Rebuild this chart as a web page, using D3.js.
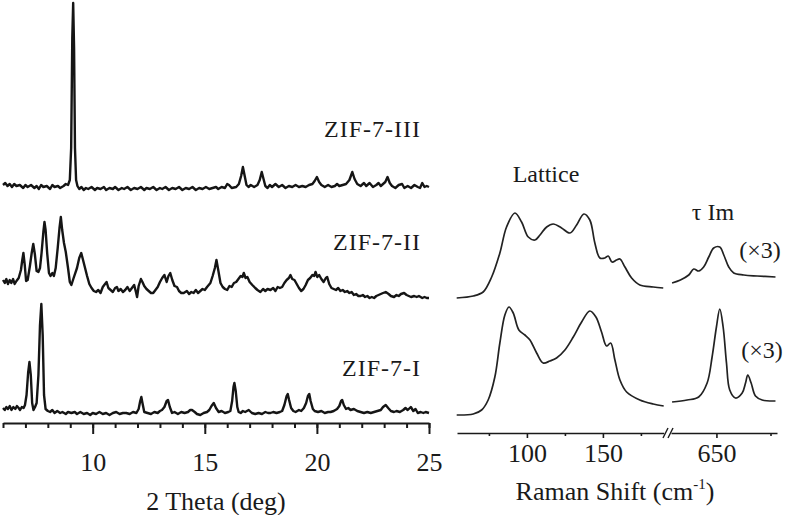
<!DOCTYPE html>
<html>
<head>
<meta charset="utf-8">
<script src="https://cdn.jsdelivr.net/npm/d3@7"></script>
<style>
	body { margin: 0; background: #fff; }
	svg { display: block; }
	text { font-family: "Liberation Serif", "Times New Roman", serif; fill: #1a1a1a; }
	.axis path, .axis line { stroke: #1a1a1a; }
</style>
</head>
<body>
<div id="chart"></div>
<script>
// XRD patterns, [2 theta (deg), intensity a.u. above own baseline]
var xrdIII = [[6.0,3],[6.1,5],[6.2,2],[6.3,4],[6.4,1],[6.5,4],[6.6,2],[6.75,3],[6.9,0],[7.0,3],[7.1,1],[7.25,3],[7.4,0],[7.5,2],[7.6,-1],[7.7,3],[7.8,1],[7.95,2],[8.1,-1],[8.2,3],[8.3,1],[8.45,2],[8.55,0],[8.7,2],[8.8,4],[8.9,3],[8.98,8],[9.04,40],[9.09,150],[9.13,185],[9.17,140],[9.21,40],[9.26,8],[9.32,2],[9.4,-1],[9.5,1],[9.6,-2],[9.7,0],[9.8,-1],[9.95,1],[10.1,-2],[10.2,0],[10.35,-1],[10.5,1],[10.6,-2],[10.75,0],[10.9,-1],[11.0,1],[11.15,-2],[11.3,0],[11.4,-1],[11.55,1],[11.7,-2],[11.85,0],[12.0,-1],[12.15,1],[12.3,-2],[12.4,0],[12.55,-1],[12.7,1],[12.85,-2],[13.0,0],[13.1,-1],[13.25,1],[13.4,-2],[13.55,0],[13.7,-1],[13.85,1],[14.0,-2],[14.15,0],[14.3,-1],[14.45,1],[14.6,-2],[14.75,0],[14.9,-1],[15.05,1],[15.2,-1],[15.35,0],[15.5,1],[15.6,-1],[15.75,1],[15.9,0],[16.0,4],[16.08,3],[16.2,0],[16.4,1],[16.52,4],[16.62,12],[16.7,21],[16.78,12],[16.86,3],[16.95,1],[17.05,3],[17.2,1],[17.35,3],[17.45,8],[17.54,16],[17.62,9],[17.7,2],[17.8,0],[17.9,3],[18.0,1],[18.15,4],[18.3,1],[18.45,3],[18.6,0],[18.75,2],[18.9,1],[19.05,3],[19.2,1],[19.35,2],[19.5,1],[19.65,3],[19.8,4],[19.9,7],[20.0,11],[20.1,6],[20.2,3],[20.35,1],[20.5,3],[20.65,1],[20.8,2],[20.9,4],[21.0,2],[21.15,3],[21.3,4],[21.45,8],[21.58,16],[21.68,9],[21.8,4],[21.95,2],[22.1,5],[22.2,2],[22.35,5],[22.5,1],[22.65,3],[22.75,5],[22.85,2],[22.95,4],[23.05,6],[23.15,11],[23.25,5],[23.35,2],[23.5,0],[23.65,3],[23.8,4],[23.9,0],[24.05,2],[24.2,0],[24.35,3],[24.5,1],[24.6,0],[24.7,5],[24.8,1],[24.9,2],[25.0,1]];

var xrdII = [[6.0,18],[6.08,15],[6.15,19],[6.22,14],[6.3,18],[6.37,15],[6.45,19],[6.52,14],[6.6,17],[6.7,20],[6.8,28],[6.86,38],[6.91,45],[6.97,33],[7.03,17],[7.1,18],[7.2,32],[7.28,45],[7.35,54],[7.42,44],[7.5,27],[7.58,26],[7.65,30],[7.72,45],[7.8,66],[7.85,76],[7.9,68],[7.97,45],[8.05,25],[8.12,22],[8.2,25],[8.27,22],[8.35,30],[8.44,50],[8.52,70],[8.58,81],[8.64,68],[8.72,55],[8.8,46],[8.9,30],[8.98,16],[9.05,13],[9.15,20],[9.3,30],[9.4,40],[9.49,45],[9.57,38],[9.66,30],[9.75,22],[9.85,14],[9.95,10],[10.05,7],[10.15,6],[10.25,8],[10.35,5],[10.45,11],[10.55,14],[10.62,16],[10.7,10],[10.8,8],[10.9,6],[11.0,10],[11.08,11],[11.15,7],[11.25,9],[11.35,6],[11.45,8],[11.55,11],[11.65,7],[11.75,10],[11.85,13],[11.93,6],[11.98,1],[12.05,12],[12.15,19],[12.22,16],[12.3,12],[12.4,9],[12.5,7],[12.6,5],[12.7,5],[12.8,8],[12.9,11],[13.0,16],[13.1,20],[13.2,23],[13.3,16],[13.38,22],[13.46,25],[13.55,18],[13.65,12],[13.76,11],[13.85,7],[13.95,5],[14.06,5],[14.2,7],[14.3,4],[14.4,6],[14.5,5],[14.6,8],[14.7,5],[14.8,7],[14.9,9],[15.0,8],[15.1,11],[15.25,15],[15.35,22],[15.45,30],[15.52,38],[15.6,28],[15.7,15],[15.8,11],[15.9,9],[16.0,8],[16.1,12],[16.2,11],[16.3,15],[16.4,16],[16.5,19],[16.6,22],[16.68,21],[16.74,25],[16.82,20],[16.9,21],[17.0,16],[17.12,13],[17.25,10],[17.35,8],[17.48,6],[17.6,9],[17.7,7],[17.8,9],[17.93,8],[18.05,10],[18.15,7],[18.25,11],[18.35,10],[18.45,11],[18.55,15],[18.65,18],[18.75,20],[18.82,23],[18.9,19],[19.0,18],[19.1,14],[19.2,10],[19.3,7],[19.4,9],[19.5,13],[19.6,18],[19.7,20],[19.8,23],[19.88,22],[19.94,26],[20.02,21],[20.1,23],[20.2,19],[20.3,16],[20.4,20],[20.46,21],[20.55,14],[20.65,10],[20.75,9],[20.85,8],[20.95,10],[21.05,7],[21.15,8],[21.25,6],[21.35,7],[21.45,5],[21.55,6],[21.65,3],[21.75,4],[21.85,2],[21.95,2],[22.05,3],[22.15,1],[22.25,2],[22.35,0],[22.45,1],[22.55,0],[22.65,2],[22.75,3],[22.85,4],[22.95,5],[23.07,6],[23.2,4],[23.3,2],[23.44,1],[23.55,3],[23.65,2],[23.75,4],[23.89,5],[24.0,3],[24.1,2],[24.2,1],[24.34,2],[24.45,1],[24.55,2],[24.7,0],[24.8,1],[24.9,0],[25.0,0]];

var xrdI = [[6.0,7],[6.08,5],[6.15,8],[6.22,6],[6.3,9],[6.38,5],[6.46,8],[6.55,6],[6.62,9],[6.7,7],[6.76,5],[6.84,8],[6.92,7],[6.98,10],[7.05,20],[7.12,42],[7.18,53],[7.24,40],[7.3,12],[7.36,5],[7.43,8],[7.5,12],[7.58,40],[7.65,90],[7.71,111],[7.77,80],[7.83,20],[7.9,6],[8.0,4],[8.1,3],[8.2,5],[8.3,2],[8.42,4],[8.55,2],[8.65,3],[8.8,1],[8.9,3],[9.05,2],[9.2,3],[9.3,1],[9.45,3],[9.6,1],[9.75,2],[9.89,0],[10.0,2],[10.15,1],[10.3,3],[10.45,1],[10.6,2],[10.75,0],[10.9,2],[11.05,3],[11.2,1],[11.35,2],[11.5,2],[11.65,1],[11.8,3],[11.95,2],[12.05,6],[12.12,14],[12.17,18],[12.22,12],[12.3,3],[12.45,2],[12.6,1],[12.75,3],[12.9,2],[13.0,4],[13.09,5],[13.2,8],[13.3,14],[13.36,15],[13.44,8],[13.54,2],[13.65,3],[13.8,1],[13.95,3],[14.1,2],[14.25,3],[14.35,5],[14.43,5],[14.55,3],[14.65,1],[14.8,0],[14.95,2],[15.1,3],[15.2,5],[15.3,9],[15.4,12],[15.5,7],[15.62,3],[15.75,4],[15.9,2],[16.05,3],[16.14,4],[16.22,14],[16.28,28],[16.32,32],[16.38,24],[16.45,8],[16.51,3],[16.6,2],[16.7,4],[16.8,3],[16.96,5],[17.1,2],[17.25,1],[17.4,2],[17.55,1],[17.7,3],[17.82,2],[17.93,2],[18.05,3],[18.2,2],[18.35,3],[18.45,4],[18.55,10],[18.65,19],[18.7,21],[18.76,15],[18.85,7],[18.95,4],[19.05,3],[19.2,5],[19.3,4],[19.42,7],[19.52,12],[19.6,19],[19.66,21],[19.72,14],[19.82,6],[19.9,4],[20.05,3],[20.2,4],[20.35,2],[20.5,3],[20.61,3],[20.75,4],[20.9,6],[21.0,9],[21.08,14],[21.13,15],[21.2,10],[21.3,6],[21.4,7],[21.5,5],[21.65,6],[21.8,4],[21.95,3],[22.1,2],[22.25,3],[22.4,2],[22.55,3],[22.7,4],[22.85,5],[22.95,8],[23.07,10],[23.18,7],[23.3,4],[23.44,3],[23.55,4],[23.7,3],[23.85,5],[23.95,7],[24.05,5],[24.19,8],[24.3,4],[24.4,6],[24.5,2],[24.63,3],[24.75,2],[24.85,3],[25.0,2]];

// Raman spectra, [shift (cm-1), intensity a.u.]
var ramanLatticeII = [[53.8,0],[64.7,2],[71.2,6],[76.8,21],[82.2,45],[86.6,71],[92.1,85],[96.5,76],[100.9,61],[105.3,58],[108.6,63],[113,71],[117.3,74],[122.8,70],[128.3,65],[132.7,73],[137.5,84],[141.4,78],[144.7,55],[148,40],[151.3,40],[153.5,42],[156,36],[159,38],[161.2,39],[164.5,31],[168.9,20],[174.3,13],[183.1,11],[189.7,10]];
var ramanTauII = [[609,15],[616.7,18],[624.4,23],[629,29],[633.6,27],[638.2,31],[642.9,41],[647.5,50],[653.1,51],[656.8,43],[661.4,31],[666,25],[675.3,23],[687.7,22],[704.6,21]];
var ramanLatticeI = [[53.8,1],[64.7,2],[70.2,6],[74.5,16],[78.9,39],[82.2,73],[85.5,101],[88.2,109],[91,103],[94.7,86],[98.7,81],[102,76],[106.4,63],[110.7,53],[115.1,55],[119.5,58],[125,66],[130.5,79],[136,94],[141.4,105],[145.4,99],[149.1,84],[152.4,70],[155.1,73],[157.9,56],[161.2,36],[165.6,24],[174.3,16],[183.1,12],[190,10]];
var ramanTauI = [[609,14],[622.9,16],[633.6,19],[641.4,33],[646,59],[650,89],[653.1,107],[656.2,89],[659.3,53],[662.3,26],[667.6,18],[673.8,23],[676.9,33],[679,41],[682.1,33],[686.1,20],[692.3,16],[704.6,15]];

var xrdNames = ['ZIF-7-III', 'ZIF-7-II', 'ZIF-7-I'];
var xrdMajor = [10, 15, 20, 25];
var xrdMinor = d3.range(6, 26);
var ramanMajorLow = [100, 150], ramanMinorLow = [75, 125, 175];
var ramanMajorHigh = [650], ramanMinorHigh = [700];

var width = 786, height = 515;

var svg = d3.select('#chart').append('svg')
	.attr('width', width)
	.attr('height', height);

// ---- XRD panel ----
var x = d3.scaleLinear().domain([6, 25]).range([3, 429]);
var y = d3.scaleLinear().domain([0, 423]).range([423, 0]);
var xrdSets = [
	{ name: xrdNames[0], data: xrdIII, offset: 235, labelY: 137 },
	{ name: xrdNames[1], data: xrdII, offset: 125, labelY: 250 },
	{ name: xrdNames[2], data: xrdI, offset: 8, labelY: 376 }
];

xrdSets.forEach(function(s) {
	var line = d3.line()
		.x(function(d) { return x(d[0]); })
		.y(function(d) { return y(d[1] + s.offset); });
	svg.append('path')
		.datum(s.data)
		.attr('d', line)
		.attr('fill', 'none')
		.attr('stroke', '#151515')
		.attr('stroke-width', 2.4)
		.attr('stroke-linejoin', 'round');
	svg.append('text')
		.attr('x', 421)
		.attr('y', s.labelY)
		.attr('text-anchor', 'end')
		.style('font-size', '24px')
		.style('letter-spacing', '1px')
		.text(s.name);
});

var gx = svg.append('g').attr('class', 'axis').attr('transform', 'translate(0,423)');
gx.call(d3.axisBottom(x).tickValues(xrdMinor).tickSize(5).tickSizeOuter(0).tickFormat(''));
gx.append('g').call(d3.axisBottom(x).tickValues(xrdMajor).tickSize(11).tickSizeOuter(0).tickPadding(19))
	.call(function(g) { g.select('.domain').remove(); });
gx.selectAll('path, line').attr('stroke-width', 2);
gx.selectAll('text')
	.style('font-family', '"Liberation Serif", "Times New Roman", serif')
	.style('font-size', '26px')
	.attr('fill', '#1a1a1a');

svg.append('text')
	.attr('x', 216)
	.attr('y', 510)
	.attr('text-anchor', 'middle')
	.style('font-size', '26px')
	.text('2 Theta (deg)');

// ---- Raman panel (broken axis) ----
var rxLow = d3.scaleLinear().domain([54, 190]).range([457, 663.7]);
var rxHigh = d3.scaleLinear().domain([608, 706]).range([671, 777]);
var ry = d3.scaleLinear().domain([0, 433]).range([433, 0]);

var ramanSets = [
	{ data: ramanLatticeII, sx: rxLow, offset: 135 },
	{ data: ramanTauII, sx: rxHigh, offset: 135 },
	{ data: ramanLatticeI, sx: rxLow, offset: 17 },
	{ data: ramanTauI, sx: rxHigh, offset: 17 }
];

ramanSets.forEach(function(s) {
	var line = d3.line()
		.curve(d3.curveCatmullRom.alpha(0.5))
		.x(function(d) { return s.sx(d[0]); })
		.y(function(d) { return ry(d[1] + s.offset); });
	svg.append('path')
		.datum(s.data)
		.attr('d', line)
		.attr('fill', 'none')
		.attr('stroke', '#222')
		.attr('stroke-width', 1.7);
});

function ramanAxis(scale, major, minor) {
	var g = svg.append('g').attr('class', 'axis').attr('transform', 'translate(0,433)');
	g.call(d3.axisBottom(scale).tickValues(minor).tickSize(3).tickSizeOuter(0).tickFormat(''));
	g.append('g').call(d3.axisBottom(scale).tickValues(major).tickSize(5).tickSizeOuter(0).tickPadding(6))
		.call(function(a) { a.select('.domain').remove(); });
	g.selectAll('path, line').attr('stroke-width', 1.6);
	g.selectAll('text')
		.style('font-family', '"Liberation Serif", "Times New Roman", serif')
		.style('font-size', '26px')
		.attr('fill', '#1a1a1a');
}
ramanAxis(rxLow, ramanMajorLow, ramanMinorLow);
ramanAxis(rxHigh, ramanMajorHigh, ramanMinorHigh);

// break marks
[663, 668].forEach(function(bx) {
	svg.append('line')
		.attr('x1', bx).attr('y1', 438)
		.attr('x2', bx + 5).attr('y2', 428)
		.attr('stroke', '#1a1a1a')
		.attr('stroke-width', 1.4);
});

var rt = svg.append('text')
	.attr('x', 615)
	.attr('y', 500)
	.attr('text-anchor', 'middle')
	.style('font-size', '26px');
rt.append('tspan').text('Raman Shift (cm');
rt.append('tspan').attr('dy', -11).style('font-size', '15px').text('-1');
rt.append('tspan').attr('dy', 11).text(')');

svg.append('text').attr('x', 546).attr('y', 182).attr('text-anchor', 'middle')
	.style('font-size', '24px').text('Lattice');
svg.append('text').attr('x', 713).attr('y', 220).attr('text-anchor', 'middle')
	.style('font-size', '24px').text('τ Im');
svg.append('text').attr('x', 760).attr('y', 258).attr('text-anchor', 'middle')
	.style('font-size', '24px').text('(×3)');
svg.append('text').attr('x', 762).attr('y', 358).attr('text-anchor', 'middle')
	.style('font-size', '24px').text('(×3)');
</script>
</body>
</html>
